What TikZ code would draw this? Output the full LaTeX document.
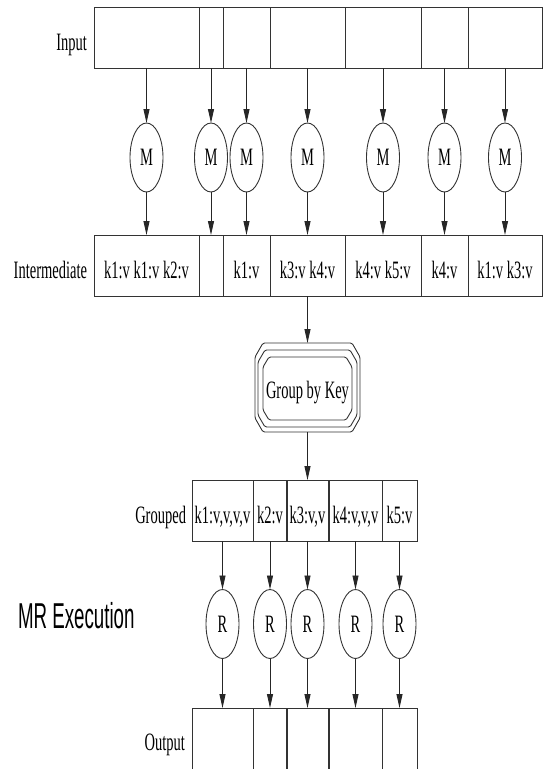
\documentclass[tikz,border=0pt]{standalone}
\usepackage{fontspec}
\newfontfamily\gvfont[FakeStretch=0.58]{Liberation Serif}
\newfontfamily\capfont[FakeStretch=0.52]{Liberation Sans}
\usetikzlibrary{shapes.geometric,arrows.meta}

\begin{document}
\begin{tikzpicture}[x=1pt,y=-1pt,
  every node/.style={inner sep=0pt, outer sep=0pt},
  gvtext/.style={font=\gvfont\fontsize{25}{25}\selectfont},
  cell/.style={draw=black!80, line width=0.9pt, rectangle, minimum height=61pt},
  celltext/.style={gvtext, anchor=base},
  worker/.style={draw=black!80, line width=0.9pt, ellipse, minimum width=33pt, minimum height=69pt, gvtext},
  lbl/.style={gvtext, anchor=base east},
  flow/.style={draw=black!85, line width=0.9pt, -{Triangle[length=14pt,width=6pt]}},
  oct/.style={draw=black!80, line width=0.9pt, rounded corners=1.5pt}
]
\clip (0,0) rectangle (543,769);

% ---------- Input row ----------
\node[cell, minimum width=105pt] (in1) at (146.5,37.5) {};
\node[cell, minimum width=24pt]  (in2) at (211,37.5) {};
\node[cell, minimum width=47pt]  (in3) at (246.5,37.5) {};
\node[cell, minimum width=75pt]  (in4) at (307.5,37.5) {};
\node[cell, minimum width=76pt]  (in5) at (383,37.5) {};
\node[cell, minimum width=47pt]  (in6) at (444.5,37.5) {};
\node[cell, minimum width=74pt]  (in7) at (505,37.5) {};
\node[lbl] (linput) at (87,50) {Input};

% ---------- Map workers ----------
\node[worker] (m1) at (146.5,157.5) {M};
\node[worker] (m2) at (211,157.5) {M};
\node[worker] (m3) at (246.5,157.5) {M};
\node[worker] (m4) at (307.5,157.5) {M};
\node[worker] (m5) at (383,157.5) {M};
\node[worker] (m6) at (444.5,157.5) {M};
\node[worker] (m7) at (505,157.5) {M};

% ---------- Intermediate row ----------
\node[cell, minimum width=105pt] (n1) at (146.5,265.5) {};
\node[cell, minimum width=24pt]  (n2) at (211,265.5) {};
\node[cell, minimum width=47pt]  (n3) at (246.5,265.5) {};
\node[cell, minimum width=75pt]  (n4) at (307.5,265.5) {};
\node[cell, minimum width=76pt]  (n5) at (383,265.5) {};
\node[cell, minimum width=47pt]  (n6) at (444.5,265.5) {};
\node[cell, minimum width=74pt]  (n7) at (505,265.5) {};
\node[celltext] (t1) at (146.5,278) {k1:v k1:v k2:v};
\node[celltext] (t3) at (246.5,278) {k1:v};
\node[celltext] (t4) at (307.5,278) {k3:v k4:v};
\node[celltext] (t5) at (383,278) {k4:v k5:v};
\node[celltext] (t6) at (444.5,278) {k4:v};
\node[celltext] (t7) at (505,278) {k1:v k3:v};
\node[lbl] (linter) at (87,278) {Intermediate};

\foreach \i in {1,...,7} {
  \draw[flow] (in\i) -- (m\i);
  \draw[flow] (m\i) -- (n\i);
}

% ---------- Group by key (three nested octagons) ----------
\node[rectangle, minimum width=105pt, minimum height=89pt] (grp) at (307.5,387.5) {};
\draw[oct] (263,343) -- (352,343) -- (360,357) -- (360,418) -- (352,432)
           -- (263,432) -- (255,418) -- (255,357) -- cycle;
\draw[oct] (265,350) -- (350,350) -- (357,362) -- (357,415) -- (350,427)
           -- (265,427) -- (258,415) -- (258,362) -- cycle;
\draw[oct] (269,357) -- (346,357) -- (352,367) -- (352,410) -- (346,420)
           -- (269,420) -- (263,410) -- (263,367) -- cycle;
\node[gvtext, anchor=base] (grptext) at (307.5,398) {Group by Key};

\draw[flow] (n4) -- (grp);

% ---------- Grouped row ----------
\node[cell, minimum width=61pt] (g1) at (222.5,510.5) {};
\node[cell, minimum width=34pt] (g2) at (270,510.5) {};
\node[cell, minimum width=42pt] (g3) at (307.5,510.5) {};
\node[cell, minimum width=53pt] (g4) at (355.5,510.5) {};
\node[cell, minimum width=35pt] (g5) at (399.5,510.5) {};
\node[celltext] (u1) at (222.5,523) {k1:v,v,v,v};
\node[celltext] (u2) at (270,523) {k2:v};
\node[celltext] (u3) at (307.5,523) {k3:v,v};
\node[celltext] (u4) at (355.5,523) {k4:v,v,v};
\node[celltext] (u5) at (399.5,523) {k5:v};
\node[lbl] (lgroup) at (186,523) {Grouped};

\draw[flow] (grp) -- (g3);

% ---------- Reduce workers ----------
\node[worker] (r1) at (222.5,624) {R};
\node[worker] (r2) at (270,624) {R};
\node[worker] (r3) at (307.5,624) {R};
\node[worker] (r4) at (355.5,624) {R};
\node[worker] (r5) at (399.5,624) {R};

% ---------- Output row ----------
\node[cell, minimum width=61pt, minimum height=64pt] (o1) at (222.5,740) {};
\node[cell, minimum width=34pt, minimum height=64pt] (o2) at (270,740) {};
\node[cell, minimum width=42pt, minimum height=64pt] (o3) at (307.5,740) {};
\node[cell, minimum width=53pt, minimum height=64pt] (o4) at (355.5,740) {};
\node[cell, minimum width=35pt, minimum height=64pt] (o5) at (399.5,740) {};
\node[lbl] (lout) at (185,750) {Output};

\foreach \i in {1,...,5} {
  \draw[flow] (g\i) -- (r\i);
  \draw[flow] (r\i) -- (o\i);
}

% ---------- Caption ----------
\node[font=\capfont\fontsize{36}{36}\selectfont, anchor=base west] (title) at (18,628) {MR Execution};
\end{tikzpicture}
\end{document}
